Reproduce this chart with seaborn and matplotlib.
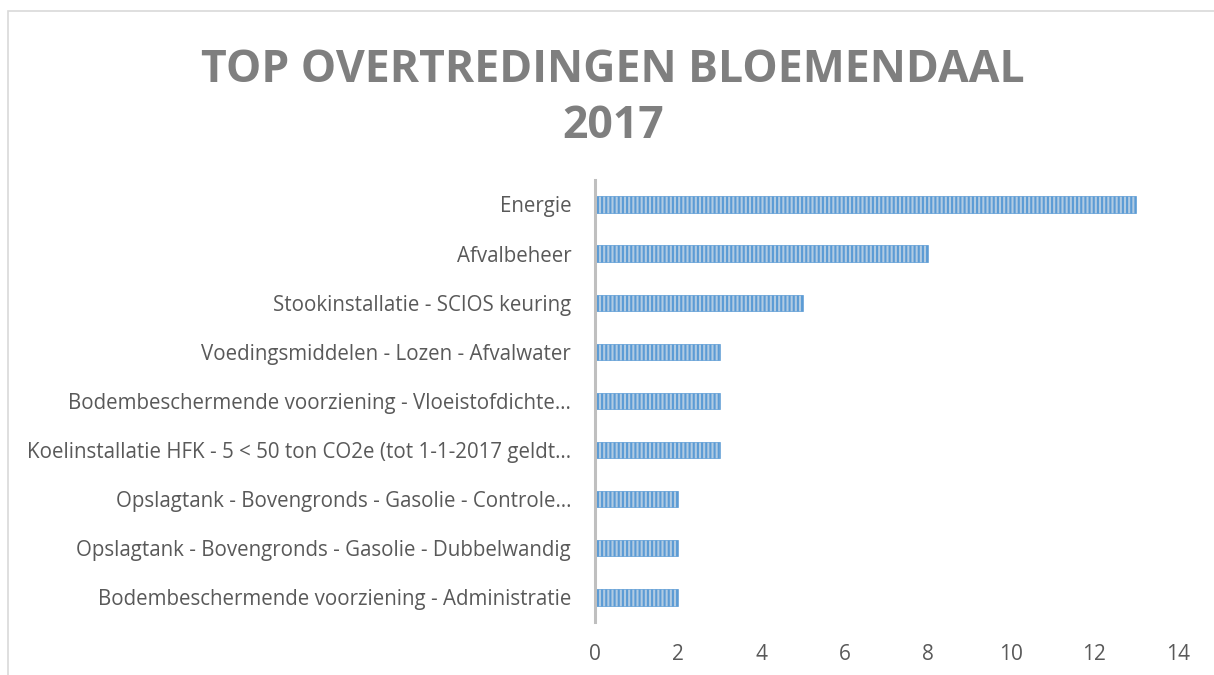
import matplotlib
matplotlib.use("Agg")
import matplotlib.pyplot as plt
import seaborn as sns
import pandas as pd

# Data
categories = [
    "Energie",
    "Afvalbeheer",
    "Stookinstallatie - SCIOS keuring",
    "Voedingsmiddelen - Lozen - Afvalwater",
    "Bodembeschermende voorziening - Vloeistofdichte…",
    "Koelinstallatie HFK - 5 < 50 ton CO2e (tot 1-1-2017 geldt…",
    "Opslagtank - Bovengronds - Gasolie - Controle…",
    "Opslagtank - Bovengronds - Gasolie - Dubbelwandig",
    "Bodembeschermende voorziening - Administratie",
]
counts = [13, 8, 5, 3, 3, 3, 2, 2, 2]
x_ticks = [0, 2, 4, 6, 8, 10, 12, 14]

df = pd.DataFrame({"categorie": categories, "aantal": counts})

sns.set_style("white")
plt.rcParams["font.family"] = ["Open Sans", "DejaVu Sans"]
plt.rcParams["hatch.linewidth"] = 1.5

fig = plt.figure(figsize=(12.14, 6.75), dpi=100)
ax = fig.add_axes([0.490, 0.0785, 0.480, 0.655])

sns.barplot(data=df, x="aantal", y="categorie", orient="h", width=0.33,
            color="#a9cbea", ax=ax)
for bar in ax.patches:
    bar.set_hatch("||||")
    bar.set_edgecolor("#5b9bd5")
    bar.set_linewidth(0.5)

ax.set_xlim(0, 14)
ax.set_ylim(8.5, -0.5)
ax.set_xticks(x_ticks)
ax.set_xlabel("")
ax.set_ylabel("")
ax.tick_params(axis="x", length=0, pad=16, labelsize=15, labelcolor="#595959")
ax.tick_params(axis="y", length=0, pad=17, labelsize=14.8, labelcolor="#595959")
for s in ["top", "right", "bottom"]:
    ax.spines[s].set_visible(False)
ax.spines["left"].set_color("#bfbfbf")
ax.spines["left"].set_linewidth(2.2)

fig.text(0.505, 0.896, "TOP OVERTREDINGEN BLOEMENDAAL", ha="center", va="center",
         fontsize=32, fontweight="bold", color="#7f7f7f")
fig.text(0.505, 0.812, "2017", ha="center", va="center",
         fontsize=32, fontweight="bold", color="#7f7f7f")

# chart frame
frame = plt.Rectangle((8 / 1214, -0.05), 1.2, 1 - 11 / 675 + 0.05, transform=fig.transFigure,
                      fill=False, edgecolor="#d9d9d9", linewidth=1.2, clip_on=False)
fig.patches.append(frame)

fig.savefig("out.png", dpi=100)
